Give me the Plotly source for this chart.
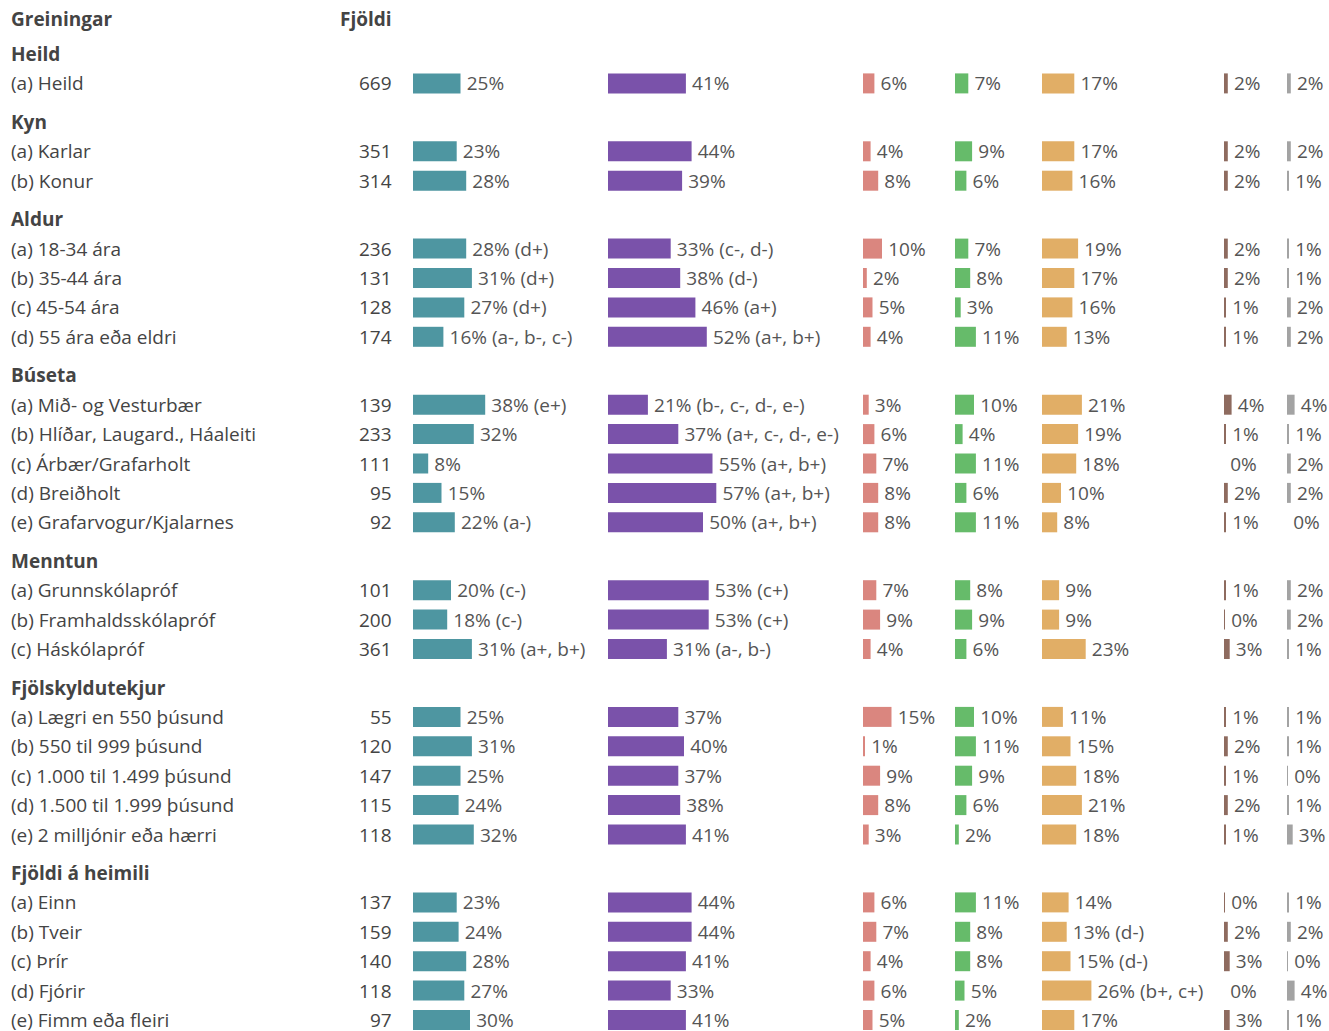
import plotly.graph_objects as go

FONT = "Open Sans"
FONT_SIZE = 19
TEXT_COLOR = "#555555"
LABEL_COLOR = "#444444"

group_names = ["Heild", "Kyn", "Aldur", "Búseta", "Menntun", "Fjölskyldutekjur", "Fjöldi á heimili"]
group_sizes = [1, 2, 4, 5, 3, 5, 5]

row_labels = [
    "(a) Heild",
    "(a) Karlar", "(b) Konur",
    "(a) 18-34 ára", "(b) 35-44 ára", "(c) 45-54 ára", "(d) 55 ára eða eldri",
    "(a) Mið- og Vesturbær", "(b) Hlíðar, Laugard., Háaleiti", "(c) Árbær/Grafarholt",
    "(d) Breiðholt", "(e) Grafarvogur/Kjalarnes",
    "(a) Grunnskólapróf", "(b) Framhaldsskólapróf", "(c) Háskólapróf",
    "(a) Lægri en 550 þúsund", "(b) 550 til 999 þúsund", "(c) 1.000 til 1.499 þúsund",
    "(d) 1.500 til 1.999 þúsund", "(e) 2 milljónir eða hærri",
    "(a) Einn", "(b) Tveir", "(c) Þrír", "(d) Fjórir", "(e) Fimm eða fleiri",
]
counts = [669, 351, 314, 236, 131, 128, 174, 139, 233, 111, 95, 92, 101, 200, 361,
          55, 120, 147, 115, 118, 137, 159, 140, 118, 97]

col1 = [25, 23, 28, 28, 31, 27, 16, 38, 32, 8, 15, 22, 20, 18, 31, 25, 31, 25, 24, 32, 23, 24, 28, 27, 30]
col2 = [41, 44, 39, 33, 38, 46, 52, 21, 37, 55, 57, 50, 53, 53, 31, 37, 40, 37, 38, 41, 44, 44, 41, 33, 41]
col3 = [6, 4, 8, 10, 2, 5, 4, 3, 6, 7, 8, 8, 7, 9, 4, 15, 1, 9, 8, 3, 6, 7, 4, 6, 5]
col4 = [7, 9, 6, 7, 8, 3, 11, 10, 4, 11, 6, 11, 8, 9, 6, 10, 11, 9, 6, 2, 11, 8, 8, 5, 2]
col5 = [17, 17, 16, 19, 17, 16, 13, 21, 19, 18, 10, 8, 9, 9, 23, 11, 15, 18, 21, 18, 14, 13, 15, 26, 17]
col6 = [2, 2, 2, 2, 2, 1, 1, 4, 1, 0, 2, 1, 1, 0.3, 3, 1, 2, 1, 2, 1, 0.3, 2, 3, 0, 3]
col7 = [2, 2, 1, 1, 1, 2, 2, 4, 1, 2, 2, 0, 2, 2, 1, 1, 1, 0.3, 1, 3, 1, 2, 0.3, 4, 1]

notes1 = ["", "", "", "d+", "d+", "d+", "a-, b-, c-", "e+", "", "", "", "a-", "c-", "c-", "a+, b+",
          "", "", "", "", "", "", "", "", "", ""]
notes2 = ["", "", "", "c-, d-", "d-", "a+", "a+, b+", "b-, c-, d-, e-", "a+, c-, d-, e-", "a+, b+",
          "a+, b+", "a+, b+", "c+", "c+", "a-, b-", "", "", "", "", "", "", "", "", "", ""]
notes5 = ["", "", "", "", "", "", "", "", "", "", "", "", "", "", "",
          "", "", "", "", "", "", "d-", "d-", "b+, c+", ""]
no_notes = [""] * len(row_labels)

columns = [
    (col1, notes1, "#4e96a1", 413, 600),
    (col2, notes2, "#7a52aa", 608, 855),
    (col3, no_notes, "#da867f", 863, 950),
    (col4, no_notes, "#66bb6a", 955, 1036),
    (col5, notes5, "#e1ae66", 1042, 1218),
    (col6, no_notes, "#8e6b5f", 1224, 1282),
    (col7, no_notes, "#a3a3a3", 1287, 1329),
]

W, H = 1329, 1031
PX_PER_PCT = 1.9
ROW_STEP = 29.4
GROUP_GAP = 38.5

# vertical layout: group header, then its rows
header_y = []
row_y = []
y = 54
for size in group_sizes:
    header_y.append(y)
    for k in range(size):
        y += ROW_STEP
        row_y.append(y)
    y += GROUP_GAP

fig = go.Figure()
layout_axes = {}
for i, (vals, notes, color, x0, x1) in enumerate(columns):
    name = "x" if i == 0 else f"x{i + 1}"
    texts = ["\u2009" + f"{v:.0f}%" + (f" ({n})" if n else "") for v, n in zip(vals, notes)]
    fig.add_trace(go.Bar(
        x=vals, y=row_y, orientation="h", width=20,
        xaxis=name, yaxis="y",
        marker=dict(color=color, line=dict(width=0)),
        text=texts, textposition="outside", constraintext="none", cliponaxis=False,
        textfont=dict(family=FONT, size=FONT_SIZE, color=TEXT_COLOR),
        hovertext=row_labels, hovertemplate="%{hovertext}: %{x}%<extra></extra>",
        showlegend=False,
    ))
    key = "xaxis" if i == 0 else f"xaxis{i + 1}"
    layout_axes[key] = dict(
        domain=[x0 / W, x1 / W], range=[0, (x1 - x0) / PX_PER_PCT],
        anchor="y", visible=False, fixedrange=True,
    )

annotations = []
def label(text, xpx, ypos, anchor="left", bold=False):
    annotations.append(dict(
        x=xpx / W, xref="paper", y=ypos, yref="y", text=f"<b>{text}</b>" if bold else text,
        showarrow=False, xanchor=anchor, yanchor="middle", borderpad=0,
        font=dict(family=FONT, size=FONT_SIZE, color=LABEL_COLOR),
    ))

label("Greiningar", 10, 19, bold=True)
label("Fjöldi", 393, 19, anchor="right", bold=True)
for name, yy in zip(group_names, header_y):
    label(name, 10, yy, bold=True)
for text, n, yy in zip(row_labels, counts, row_y):
    label(text, 10, yy)
    label(str(n), 393, yy, anchor="right")

fig.update_layout(
    width=W, height=H,
    margin=dict(l=0, r=0, t=0, b=0),
    paper_bgcolor="white", plot_bgcolor="white",
    yaxis=dict(domain=[0, 1], range=[H, 0], visible=False, fixedrange=True),
    annotations=annotations,
    barmode="overlay",
    **layout_axes,
)

fig.write_html(
    "out.html",
    config={"displayModeBar": False},
    post_script="document.body.style.margin='0';document.body.style.overflow='hidden';",
)
